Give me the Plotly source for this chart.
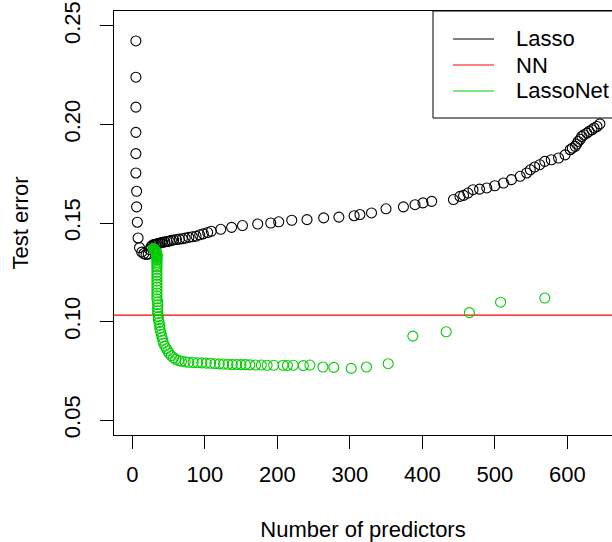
import plotly.graph_objects as go

# ---- data ----
lasso_x = [5, 5, 5, 5, 5, 5, 6, 6, 7, 8, 10, 13, 16, 19, 22, 24, 26, 28, 30, 32,
           34, 36, 38, 40, 42, 45, 48, 51, 54, 57, 61, 65, 69, 73, 78, 83, 88, 93,
           98, 104, 109, 122, 137, 152, 173, 191, 202, 220, 241, 264, 285, 306,
           314, 330, 350, 374, 390, 401, 413, 443, 452, 457, 463, 470, 479, 489,
           500, 512, 523, 535, 544, 549, 555, 562, 569, 578, 588, 597, 604, 607,
           611, 613, 615, 618, 620, 623, 627, 630, 634, 637, 641, 645]
lasso_y = [0.2424, 0.2240, 0.2088, 0.1960, 0.1852, 0.1754, 0.1661, 0.1582, 0.1504,
           0.1424, 0.1375, 0.1352, 0.1345, 0.1340, 0.1342, 0.1365, 0.1380, 0.1388,
           0.1390, 0.1392, 0.1394, 0.1396, 0.1398, 0.1400, 0.1402, 0.1404, 0.1406,
           0.1408, 0.1412, 0.1414, 0.1416, 0.1418, 0.1420, 0.1423, 0.1427, 0.1430,
           0.1433, 0.1440, 0.1445, 0.1452, 0.1458, 0.1468, 0.1478, 0.1487, 0.1495,
           0.1500, 0.1506, 0.1514, 0.1517, 0.1526, 0.1530, 0.1537, 0.1543, 0.1551,
           0.1572, 0.1582, 0.1593, 0.1602, 0.1610, 0.1619, 0.1635, 0.1640, 0.1652,
           0.1669, 0.1672, 0.1678, 0.1689, 0.1703, 0.1720, 0.1737, 0.1754, 0.1770,
           0.1784, 0.1796, 0.1813, 0.1821, 0.1830, 0.1846, 0.1872, 0.1880, 0.1889,
           0.1900, 0.1914, 0.1925, 0.1939, 0.1948, 0.1956, 0.1965, 0.1973, 0.1982,
           0.1990, 0.2003]

nn_error = 0.1032

lassonet_x = [29, 30, 31, 31, 32, 32, 33, 33, 33, 34, 34, 34, 34, 34, 34, 34, 34,
              34, 34, 34, 34, 34, 34, 34, 34, 34, 34, 34, 34, 34, 35, 35, 35, 35,
              35, 36, 36, 37, 38, 38, 39, 40, 41, 42, 43, 45, 47, 49, 51, 54, 57,
              60, 64, 68, 73, 78, 84, 90, 96, 102, 108, 114, 120, 126, 132, 138,
              144, 150, 156, 162, 170, 178, 186, 195, 208, 214, 222, 236, 245, 263,
              278, 302, 323, 353, 387, 433, 465, 508, 569]
lassonet_y = [0.1370, 0.1368, 0.1366, 0.1362, 0.1360, 0.1356, 0.1354, 0.1350,
              0.1346, 0.1342, 0.1338, 0.1334, 0.1330, 0.1325, 0.1318, 0.1310,
              0.1300, 0.1290, 0.1278, 0.1265, 0.1250, 0.1235, 0.1220, 0.1205,
              0.1190, 0.1175, 0.1160, 0.1145, 0.1130, 0.1115, 0.1100, 0.1085,
              0.1070, 0.1055, 0.1040, 0.1025, 0.1010, 0.0995, 0.0980, 0.0965,
              0.0950, 0.0935, 0.0920, 0.0905, 0.0890, 0.0875, 0.0862, 0.0850,
              0.0838, 0.0826, 0.0816, 0.0808, 0.0802, 0.0798, 0.0795, 0.0793,
              0.0792, 0.0791, 0.0790, 0.0789, 0.0788, 0.0786, 0.0785, 0.0784,
              0.0783, 0.0782, 0.0782, 0.0781, 0.0781, 0.0780, 0.0779, 0.0779,
              0.0778, 0.0778, 0.0778, 0.0777, 0.0778, 0.0776, 0.0779, 0.0769,
              0.0767, 0.0762, 0.0769, 0.0786, 0.0926, 0.0948, 0.1045, 0.1098,
              0.1119]

x_ticks = [0, 100, 200, 300, 400, 500, 600]
y_ticks = [0.05, 0.10, 0.15, 0.20, 0.25]
series_names = ["Lasso", "NN", "LassoNet"]
series_colors = ["#000000", "#FF0000", "#00CD00"]

FONT = "Liberation Sans, Arial, Helvetica, sans-serif"

# plot-area geometry (pixels) used for margins and legend placement
W, H = 612, 542
ML, MR, MT, MB = 114, 0, 11, 107
PW, PH = W - ML - MR, H - MT - MB


def px_x(p):
    return (p - ML) / PW


def px_y(p):
    return (H - MB - p) / PH


fig = go.Figure()

fig.add_trace(go.Scatter(
    x=lasso_x, y=lasso_y, mode="markers", showlegend=False,
    marker=dict(symbol="circle-open", size=10, color=series_colors[0],
                line=dict(width=1.1, color=series_colors[0])),
))
fig.add_trace(go.Scatter(
    x=lassonet_x, y=lassonet_y, mode="markers", showlegend=False,
    marker=dict(symbol="circle-open", size=10, color=series_colors[2],
                line=dict(width=1.1, color=series_colors[2])),
))

fig.update_layout(
    width=W, height=H,
    margin=dict(l=ML, r=MR, t=MT, b=MB, autoexpand=False),
    paper_bgcolor="white", plot_bgcolor="white",
    font=dict(family=FONT, size=22, color="black"),
    showlegend=False,
)

fig.add_hline(y=nn_error, line=dict(color=series_colors[1], width=1.2), layer="below")

# legend drawn as in R: box at the top-right corner, line samples + labels
fig.add_shape(type="rect", xref="paper", yref="paper",
              x0=px_x(433), x1=px_x(629), y0=px_y(118), y1=px_y(11),
              line=dict(color="black", width=1), fillcolor="white", layer="above")
row_y = [39, 65, 91]
for name, col, ry in zip(series_names, series_colors, row_y):
    fig.add_shape(type="line", xref="paper", yref="paper",
                  x0=px_x(453), x1=px_x(494), y0=px_y(ry), y1=px_y(ry),
                  line=dict(color=col, width=1), layer="above")
    fig.add_annotation(text=name, xref="paper", yref="paper",
                       x=px_x(514), y=px_y(ry), xanchor="left",
                       yanchor="middle", showarrow=False,
                       font=dict(size=22, family=FONT, color="black"))

fig.update_xaxes(
    range=[-25.2, 661.7], tickmode="array", tickvals=x_ticks,
    ticktext=[str(v) for v in x_ticks], automargin=False,
    showgrid=False, zeroline=False, showline=True, linecolor="black",
    linewidth=1, mirror=True, ticks="outside", ticklen=13, tickwidth=1,
    tickcolor="black", ticklabelstandoff=7,
    title=dict(text="Number of predictors", standoff=37,
               font=dict(size=22, family=FONT, color="black")),
)
fig.update_yaxes(
    range=[0.0424, 0.2576], tickmode="array", tickvals=y_ticks,
    ticktext=[f"{v:.2f}" for v in y_ticks], tickangle=-90, automargin=False,
    showgrid=False, zeroline=False, showline=True, linecolor="black",
    linewidth=1, mirror=False, ticks="outside", ticklen=13, tickwidth=1,
    tickcolor="black", ticklabelstandoff=11,
    title=dict(text="Test error", standoff=25,
               font=dict(size=22, family=FONT, color="black")),
)

fig.write_html(
    "out.html",
    config={"displayModeBar": False},
    post_script="document.body.style.margin='0';document.body.style.overflow='hidden';",
)
